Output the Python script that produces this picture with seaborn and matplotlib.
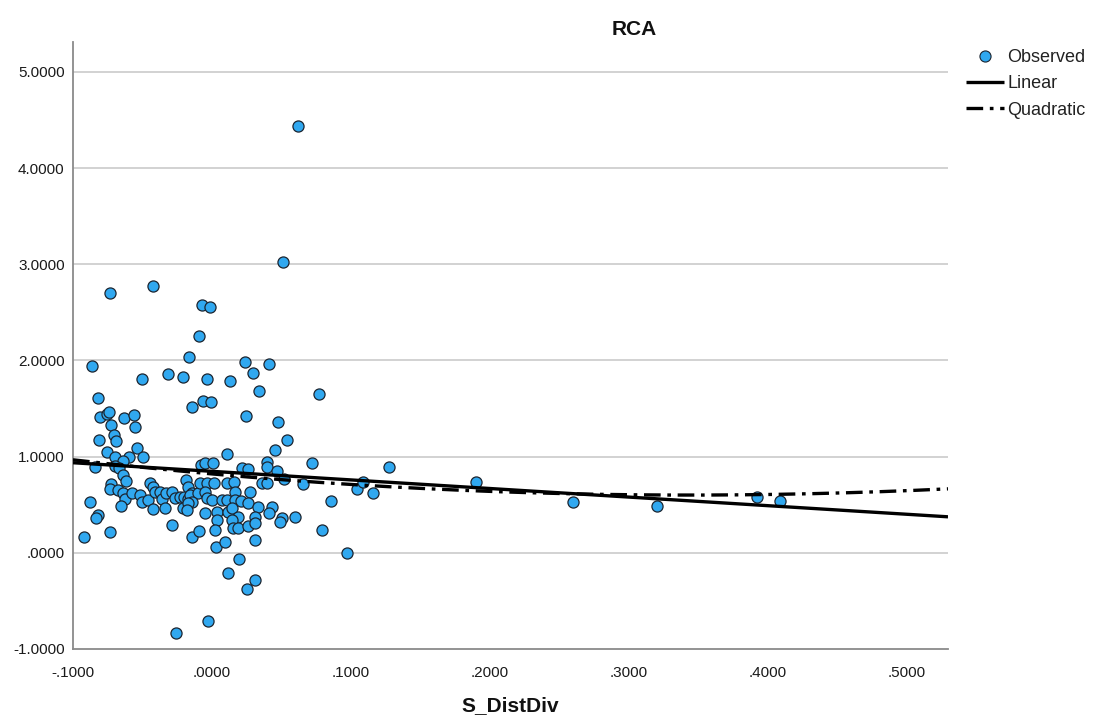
import numpy as np
import pandas as pd
import seaborn as sns
import matplotlib
matplotlib.use("Agg")
import matplotlib.pyplot as plt
from matplotlib.lines import Line2D
from matplotlib.ticker import FuncFormatter

# Observed values: S_DistDiv (x) against RCA (y)
s_distdiv = [
    0.0619, 0.0511, -0.0734, -0.0424, -0.0072, -0.0014, -0.0094, -0.0863, -0.0165, 0.0237,
    0.0410, -0.0317, -0.0209, -0.0036, 0.0295, -0.0504, 0.0129, 0.0338, 0.0770, -0.0820,
    -0.0065, -0.0007, -0.0144, 0.0245, 0.0475, 0.0540, 0.0453, 0.0108, -0.0806, -0.0755,
    -0.0741, -0.0633, -0.0561, -0.0554, -0.0727, -0.0813, -0.0705, -0.0691, -0.0540, -0.0755,
    -0.0698, -0.0597, -0.0496, -0.0842, -0.0640, -0.0079, -0.0050, 0.0007, 0.0216, 0.0259,
    0.0396, 0.0396, 0.0468, 0.0719, -0.0698, -0.0669, -0.0640, -0.0619, -0.0727, -0.0734,
    -0.0676, -0.0640, -0.0626, -0.0576, -0.0518, -0.0504, -0.0460, -0.0446, -0.0424, -0.0410,
    -0.0374, -0.0360, -0.0331, -0.0288, -0.0266, -0.0230, -0.0201, -0.0187, -0.0173, -0.0144,
    -0.0173, -0.0158, -0.0101, -0.0086, -0.0036, 0.0014, -0.0050, -0.0036, 0.0000, 0.0072,
    0.0108, 0.0108, 0.0158, 0.0165, 0.0165, 0.0209, 0.0273, 0.0259, 0.0360, 0.0396,
    0.0518, 0.0655, 0.0856, 0.1043, 0.1086, 0.1158, 0.1273, 0.1899, 0.2597, 0.3201,
    0.3921, 0.4086, -0.0655, -0.0424, -0.0338, -0.0209, -0.0144, -0.0173, -0.0180, -0.0050,
    0.0036, 0.0115, 0.0144, 0.0331, 0.0432, 0.0410, -0.0878, -0.0820, -0.0835, 0.0187,
    0.0309, 0.0504, 0.0597, 0.0036, 0.0144, 0.0489, -0.0921, -0.0734, -0.0288, -0.0144,
    -0.0094, 0.0022, 0.0029, 0.0094, 0.0151, 0.0187, 0.0259, 0.0309, 0.0309, 0.0194,
    0.0115, 0.0309, 0.0252, -0.0029, -0.0259, 0.0791, 0.0971,
]
rca = [
    4.439, 3.025, 2.703, 2.775, 2.578, 2.557, 2.256, 1.944, 2.037, 1.985,
    1.965, 1.861, 1.830, 1.809, 1.871, 1.809, 1.788, 1.684, 1.653, 1.611,
    1.580, 1.570, 1.518, 1.424, 1.362, 1.175, 1.071, 1.029, 1.414, 1.445,
    1.466, 1.403, 1.435, 1.310, 1.331, 1.175, 1.227, 1.164, 1.091, 1.050,
    0.998, 0.998, 0.998, 0.894, 0.956, 0.915, 0.936, 0.936, 0.884, 0.873,
    0.946, 0.894, 0.852, 0.936, 0.904, 0.884, 0.811, 0.748, 0.717, 0.665,
    0.655, 0.624, 0.561, 0.624, 0.603, 0.530, 0.551, 0.728, 0.686, 0.634,
    0.634, 0.561, 0.624, 0.634, 0.572, 0.582, 0.582, 0.759, 0.686, 0.624,
    0.561, 0.603, 0.624, 0.728, 0.728, 0.728, 0.634, 0.572, 0.551, 0.551,
    0.728, 0.551, 0.738, 0.634, 0.551, 0.541, 0.634, 0.520, 0.728, 0.728,
    0.769, 0.717, 0.541, 0.665, 0.738, 0.624, 0.894, 0.738, 0.530, 0.489,
    0.582, 0.541, 0.489, 0.457, 0.468, 0.468, 0.530, 0.520, 0.447, 0.416,
    0.426, 0.426, 0.468, 0.478, 0.478, 0.416, 0.530, 0.395, 0.364, 0.374,
    0.374, 0.364, 0.374, 0.343, 0.343, 0.322, 0.166, 0.218, 0.291, 0.166,
    0.229, 0.239, 0.062, 0.114, 0.260, 0.260, 0.281, 0.312, 0.135, -0.062,
    -0.208, -0.281, -0.374, -0.707, -0.832, 0.239, 0.000,
]

# Fitted curve coefficients (constant, b1, b2)
linear_coef = [0.847, -0.893]
quadratic_coef = [0.820, -1.281, 1.866]

x_ticks = [-0.1, 0.0, 0.1, 0.2, 0.3, 0.4, 0.5]
y_ticks = [-1, 0, 1, 2, 3, 4, 5]
x_range = [-0.1, 0.5295]
y_range = [-1.0, 5.31]

sns.set_theme(style="white")
plt.rcParams["font.family"] = ["Liberation Sans", "DejaVu Sans"]

fig = plt.figure(figsize=(10.97, 7.24), dpi=100, facecolor="white")
ax = fig.add_axes([73 / 1097, 1 - 649 / 724, 875 / 1097, 607 / 724])

df = pd.DataFrame({"S_DistDiv": s_distdiv, "RCA": rca})
sns.scatterplot(data=df, x="S_DistDiv", y="RCA", ax=ax, s=64,
                color="#30a8f0", edgecolor="#1c2530", linewidth=0.9,
                zorder=3, legend=False)

grid = np.linspace(x_range[0], x_range[1], 400)
lin_y = linear_coef[0] + linear_coef[1] * grid
quad_y = quadratic_coef[0] + quadratic_coef[1] * grid + quadratic_coef[2] * grid ** 2
sns.lineplot(x=grid, y=lin_y, ax=ax, color="black", linewidth=2.4,
             zorder=4, solid_capstyle="butt")
sns.lineplot(x=grid, y=quad_y, ax=ax, color="black", linewidth=2.4,
             linestyle=(0, (5, 2, 1.1, 2)), zorder=4, dash_capstyle="butt")

ax.set_xlim(*x_range)
ax.set_ylim(*y_range)
ax.set_xticks(x_ticks)
ax.set_yticks(y_ticks)


def spss_fmt(v, _pos=None):
    s = f"{v:.4f}"
    if s.startswith("-0."):
        s = "-" + s[2:]
    elif s.startswith("0."):
        s = s[1:]
    if s == "-.0000":
        s = ".0000"
    return s


ax.xaxis.set_major_formatter(FuncFormatter(spss_fmt))
ax.yaxis.set_major_formatter(FuncFormatter(spss_fmt))
ax.tick_params(axis="both", length=0, labelsize=11, colors="#1a1a1a")
ax.tick_params(axis="y", pad=6)
ax.tick_params(axis="x", pad=12)

for yv in y_ticks[1:]:
    ax.axhline(yv, color="#cfcfcf", linewidth=1.3, zorder=1)

for side in ["top", "right"]:
    ax.spines[side].set_visible(False)
for side in ["left", "bottom"]:
    ax.spines[side].set_color("#8a8a8a")
    ax.spines[side].set_linewidth(1.3)

ax.set_xlabel("S_DistDiv", fontsize=15, fontweight="bold", labelpad=12, color="#111111")
ax.set_ylabel("")
ax.set_title("RCA", x=0.641, pad=5, fontsize=15, fontweight="bold", color="#111111")

handles = [
    Line2D([], [], marker="o", linestyle="none", markersize=8,
           markerfacecolor="#30a8f0", markeredgecolor="#1c2530", markeredgewidth=0.8),
    Line2D([], [], color="black", linewidth=2.4, solid_capstyle="butt"),
    Line2D([], [], color="black", linewidth=2.4, linestyle=(0, (5, 2, 1.1, 2))),
]
ax.legend(handles, ["Observed", "Linear", "Quadratic"], loc="upper left",
          bbox_to_anchor=(966 / 1097, 1 - 49 / 724), bbox_transform=fig.transFigure,
          frameon=False, fontsize=13, handlelength=2.1, handletextpad=0.2,
          labelspacing=0.52, borderpad=0, borderaxespad=0, labelcolor="#222222")

fig.savefig("out.png", dpi=100, facecolor="white")
